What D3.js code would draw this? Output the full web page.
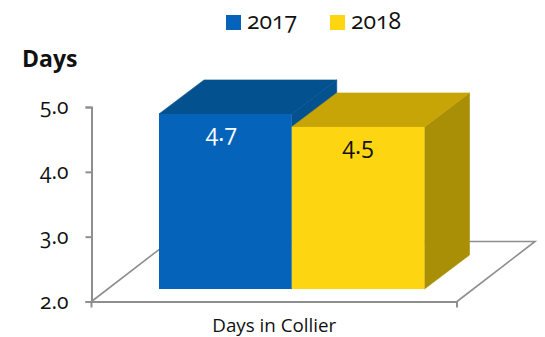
<!DOCTYPE html>
<html>
<head>
<meta charset="utf-8">
<script src="https://cdn.jsdelivr.net/npm/d3@7"></script>
<style>
  html, body { margin: 0; padding: 0; background: #fff; }
  text { font-family: "Open Sans", Lato, "Noto Sans", sans-serif; font-feature-settings: "onum" 1; fill: #111; }
</style>
</head>
<body>
<svg id="chart" width="545" height="337"></svg>
<script>
const categories = ["Days in Collier"];
const seriesNames = ["2017", "2018"];
const values2017 = [4.7];
const values2018 = [4.5];
const yTicks = [2, 3, 4, 5];
const yTitle = "Days";

const frontColors = ["#0564ba", "#fdd510"];
const topColors = ["#04518f", "#c7a506"];
const sideColors = ["#04518f", "#a98f05"];
const labelColors = ["#fff", "#111"];
const labelNudge = [-4, 0];

const svg = d3.select("#chart");

// Floor plane, in screen pixels: front edge and full receding depth
const plotLeft = 91.5, plotRight = 457, plotBase = 301.5;
const floorDepth = { x: 78, y: -60 };
// Bars stand a little way back from the front edge and are shallower than the floor
const barShift = { x: 17, y: -12.5 };
const barDepth = { x: 45, y: -34 };

const y = d3.scaleLinear().domain([2, 5]).range([plotBase, 107]);
const x0 = d3.scaleBand().domain(categories).range([plotLeft, plotRight]);
const x1 = d3.scaleBand().domain(seriesNames).range([142, 407.5]);

const line = "#8f8f8f";

// Floor outline
const floor = svg.append("g").attr("fill", "none").attr("stroke", line).attr("stroke-width", 1.6);
floor.append("path").attr("d", d3.line()([
  [plotLeft, plotBase],
  [plotLeft + floorDepth.x, plotBase + floorDepth.y],
  [plotRight + floorDepth.x, plotBase + floorDepth.y],
  [plotRight, plotBase]
]));

// Value axis
const yAxis = svg.append("g")
  .attr("transform", `translate(${plotLeft},0)`)
  .call(d3.axisLeft(y).tickValues(yTicks).tickFormat(d3.format(".1f")).tickSize(6).tickPadding(17));
yAxis.select(".domain").attr("stroke", line).attr("stroke-width", 2);
yAxis.selectAll(".tick line").attr("stroke", line).attr("stroke-width", 2);
yAxis.selectAll("text").attr("font-size", 21).attr("font-family", "'Open Sans', Lato, sans-serif").attr("dy", "0.32em");

// Category axis
const xAxis = svg.append("g")
  .attr("transform", `translate(0,${plotBase})`)
  .call(d3.axisBottom(x0).tickValues(categories).tickSize(0).tickPadding(27));
xAxis.select(".domain").attr("stroke", line).attr("stroke-width", 1.8);
xAxis.selectAll("text").attr("font-size", 18.8).attr("font-family", "'Open Sans', Lato, sans-serif").attr("dy", "0.2em");
xAxis.selectAll(".edge").data([plotLeft, plotRight]).enter().append("line")
  .attr("class", "edge").attr("x1", d => d).attr("x2", d => d).attr("y1", 0).attr("y2", 6)
  .attr("stroke", line).attr("stroke-width", 2);

// 3D columns: side and top faces first, then the front; yellow sits over blue's side
const series = [values2017, values2018];
series.forEach((vals, i) => {
  const g = svg.append("g");
  const left = x1(seriesNames[i]) + barShift.x;
  const right = left + x1.bandwidth();
  const top = y(vals[0]) + barShift.y;
  const bottom = y(2) + barShift.y;
  const poly = pts => d3.line()(pts) + "Z";
  // A hairline in the face colour closes the antialiasing gap along shared edges
  g.append("path").attr("fill", sideColors[i]).attr("stroke", sideColors[i]).attr("stroke-width", 0.6).attr("d", poly([
    [right, top], [right + barDepth.x, top + barDepth.y],
    [right + barDepth.x, bottom + barDepth.y], [right, bottom]
  ]));
  g.append("path").attr("fill", topColors[i]).attr("stroke", topColors[i]).attr("stroke-width", 0.6).attr("d", poly([
    [left, top], [left + barDepth.x, top + barDepth.y],
    [right + barDepth.x, top + barDepth.y], [right, top]
  ]));
  g.append("rect").attr("x", left).attr("y", top)
    .attr("width", right - left).attr("height", bottom - top).attr("fill", frontColors[i]);
  g.append("text")
    .attr("x", (left + right) / 2 + labelNudge[i]).attr("y", top + 27)
    .attr("text-anchor", "middle").attr("font-size", 23)
    .style("fill", labelColors[i])
    .text(d3.format(".1f")(vals[0]));
});

// Axis title
svg.append("text").attr("x", 22).attr("y", 67)
  .attr("font-size", 23).attr("font-weight", 700).text(yTitle);

// Legend
const legendX = d3.scaleOrdinal().domain(seriesNames).range([226, 330]);
const legend = svg.selectAll(".key").data(seriesNames).enter().append("g").attr("class", "key")
  .attr("transform", d => `translate(${legendX(d)},0)`);
legend.append("rect").attr("y", 15).attr("width", 15).attr("height", 15)
  .attr("fill", (d, i) => frontColors[i]);
legend.append("text").attr("x", 21).attr("y", 29).attr("font-size", 23).text(d => d);
</script>
</body>
</html>
